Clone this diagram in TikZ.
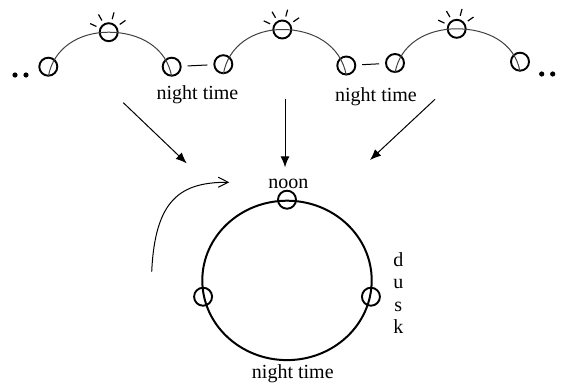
\documentclass[tikz,border=0pt]{standalone}
\usepackage{fontspec}
\setmainfont{Liberation Serif}
\newfontfamily\daytext{Liberation Serif}
\usepackage{tikz}
\usetikzlibrary{shapes,arrows,positioning,calc,arrows.meta}

\tikzset{
    every node/.append style={font=\daytext},
    spot/.style={draw, circle, line width=0.95pt, minimum size=9pt, inner sep=0pt},
    sky/.style={draw=black!75, line width=0.5pt},
    ray/.style={line width=0.6pt},
    link/.style={line width=0.5pt, shorten <=3pt, shorten >=3pt},
    etc/.style={fill, circle, inner sep=0pt, minimum size=2.6pt},
    flow/.style={line width=0.5pt, -{Latex[length=5.5pt,width=4.5pt]}},
    turn/.style={line width=0.5pt, -{Straight Barb[length=5pt,width=5pt]}}
}

\begin{document}
\begin{tikzpicture}[x=0.5pt, y=-0.5pt]
    \useasboundingbox (0,0) rectangle (561,386);

    % Days in a row
    \node[etc] (dotL1) at (15,75) {};
    \node[etc] (dotL2) at (26,75) {};
    \node[spot] (rise1) at (48.3,66.7) {};
    \node[spot] (sun1) at (108.7,32.2) {};
    \node[spot] (set1) at (171.7,66.7) {};
    \node[spot] (rise2) at (223.3,64.2) {};
    \node[spot] (sun2) at (282.3,29.5) {};
    \node[spot] (set2) at (346.3,65.5) {};
    \node[spot] (rise3) at (395,63) {};
    \node[spot] (sun3) at (456.7,28.8) {};
    \node[spot] (set3) at (520,61.7) {};
    \node[etc] (dotR1) at (541.7,74) {};
    \node[etc] (dotR2) at (552.7,74) {};

    \draw[sky] (rise1.south) to[out=80,in=180] (sun1.center) to[out=0,in=100] (set1.south);
    \draw[sky] (rise2.south) to[out=80,in=180] (sun2.center) to[out=0,in=100] (set2.south);
    \draw[sky] (rise3.south) to[out=80,in=180] (sun3.center) to[out=0,in=100] (set3.south);
    \foreach \s in {sun1,sun2,sun3}
        \foreach \a in {35,75,120,155}
            \draw[ray] ([shift={(\a:6.75pt)}]\s.center) -- ([shift={(\a:10.25pt)}]\s.center);

    \draw[link] (set1) -- (rise2);
    \draw[link] (set2) -- (rise3);
    \node[anchor=base] (night1) at (197.5,99) {night time};
    \node[anchor=base] (night2) at (376,101) {night time};

    % Arrows down
    \coordinate (from1) at (123.3,102.7);
    \coordinate (to1) at (186.7,163.3);
    \coordinate (from2) at (285,99.3);
    \coordinate (to2) at (285,167.3);
    \coordinate (from3) at (435,99.3);
    \coordinate (to3) at (370,160);
    \draw[flow] (from1) -- (to1);
    \draw[flow] (from2) -- (to2);
    \draw[flow] (from3) -- (to3);

    % One day as a cycle
    \node[draw, ellipse, line width=1pt, minimum width=84.7pt, minimum height=79.7pt, inner sep=0pt] (clock) at (287,280.4) {};
    \node[spot] (noonspot) at (clock.north) {};
    \node[spot] (dawnspot) at (clock.191) {};
    \node[spot] (duskspot) at (clock.349) {};
    \node[anchor=base] (noon) at (288.3,188.3) {noon};
    \node[anchor=base] (night) at (292.8,378.3) {night time};
    \node[anchor=north, align=center, font=\daytext\fontsize{10pt}{11.15pt}\selectfont] (dusk) at (398.3,245.5) {d\\u\\s\\k};

    \coordinate (swingA) at (151.7,271.7);
    \coordinate (swingB) at (229.3,182.3);
    \draw[turn] (swingA) .. controls (155,200) and (180,182) .. (swingB);
\end{tikzpicture}
\end{document}
